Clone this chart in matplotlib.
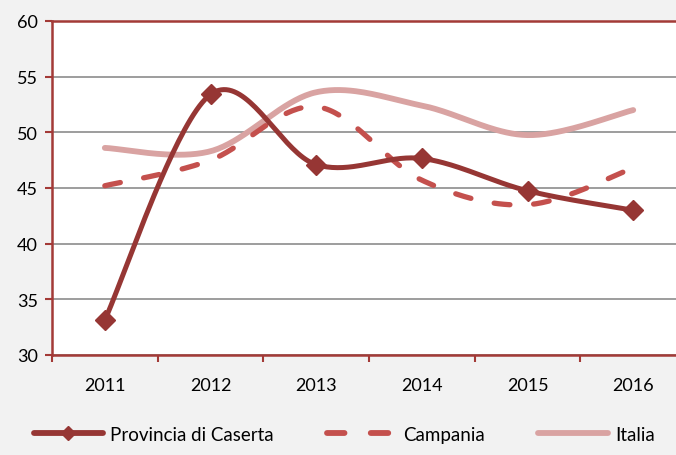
import numpy as np
import matplotlib
matplotlib.use("Agg")
import matplotlib.pyplot as plt
from matplotlib.lines import Line2D

years = ["2011", "2012", "2013", "2014", "2015", "2016"]
caserta = [33.15, 53.4, 47.1, 47.65, 44.75, 43.0]
campania = [45.2, 47.5, 52.3, 45.7, 43.5, 46.8]
italia = [48.6, 48.3, 53.6, 52.4, 49.75, 52.0]
yticks = [30, 35, 40, 45, 50, 55, 60]

plt.rcParams['font.family'] = ['Lato', 'DejaVu Sans']

def smooth(vals, n=40):
    x = np.arange(len(vals), dtype=float)
    y = np.asarray(vals, dtype=float)
    P = np.column_stack([x, y])
    pts = []
    for i in range(len(P) - 1):
        p0 = P[i - 1] if i > 0 else P[i]
        p1, p2 = P[i], P[i + 1]
        p3 = P[i + 2] if i + 2 < len(P) else P[i + 1]
        c1 = p1 + (p2 - p0) / 6.0
        c2 = p2 - (p3 - p1) / 6.0
        t = np.linspace(0, 1, n, endpoint=(i == len(P) - 2))[:, None]
        seg = ((1 - t) ** 3) * p1 + 3 * ((1 - t) ** 2) * t * c1 + 3 * (1 - t) * t ** 2 * c2 + t ** 3 * p2
        pts.append(seg)
    pts = np.vstack(pts)
    return pts[:, 0], pts[:, 1]

c_cas = '#963634'
c_cam = '#C4504D'
c_ita = '#D9A3A2'
axis_col = '#A33A37'

fig = plt.figure(figsize=(6.76, 4.56), dpi=100, facecolor='#F2F2F2')
ax = fig.add_axes([0.0769, 0.2193, 0.938, 0.7325])
ax.set_facecolor('white')

xi, yi = smooth(italia)
ax.plot(xi, yi, color=c_ita, lw=4.2, solid_capstyle='round', zorder=3)
xc, yc = smooth(campania)
ax.plot(xc, yc, color=c_cam, lw=3.8, dashes=(3.0, 4.5), dash_capstyle='round', zorder=4)
xs, ys = smooth(caserta)
ax.plot(xs, ys, color=c_cas, lw=3.6, solid_capstyle='round', zorder=5)
ax.plot(np.arange(len(caserta)), caserta, linestyle='none', marker='D', ms=10,
        color=c_cas, zorder=6)

ax.set_xlim(-0.5, 5.5)
ax.set_ylim(30, 60)
ax.set_yticks(yticks)
ax.set_yticklabels([str(v) for v in yticks])
ax.set_xticks(np.arange(len(years)))
ax.set_xticklabels(years)
ax.set_xticks(np.arange(-0.5, len(years), 1.0), minor=True)
ax.tick_params(axis='x', which='major', length=0, pad=16, labelsize=13, colors='black')
ax.tick_params(axis='x', which='minor', length=5, width=1.5, color=axis_col, direction='out')
ax.tick_params(axis='y', length=5, width=1.5, color=axis_col, direction='out', pad=5,
               labelsize=13, labelcolor='black')
ax.grid(axis='y', color='#8C8C8C', lw=1.2)
ax.set_axisbelow(True)
for s in ['left', 'bottom', 'top']:
    ax.spines[s].set_color(axis_col)
    ax.spines[s].set_linewidth(1.8)
ax.spines['right'].set_visible(False)

handles = [
    Line2D([], [], color=c_cas, lw=4.2, marker='D', ms=7, solid_capstyle='round'),
    Line2D([], [], color=c_cam, lw=4.2, dashes=(3.0, 4.5), dash_capstyle='round'),
    Line2D([], [], color=c_ita, lw=4.2, solid_capstyle='round'),
]
fig.legend(handles, ['Provincia di Caserta', 'Campania', 'Italia'],
           loc='center', bbox_to_anchor=(0.509, 0.046), ncol=3, frameon=False,
           fontsize=13.5, handlelength=3.7, handletextpad=0.37, columnspacing=2.85)

fig.savefig('out.png', dpi=100, facecolor=fig.get_facecolor())
